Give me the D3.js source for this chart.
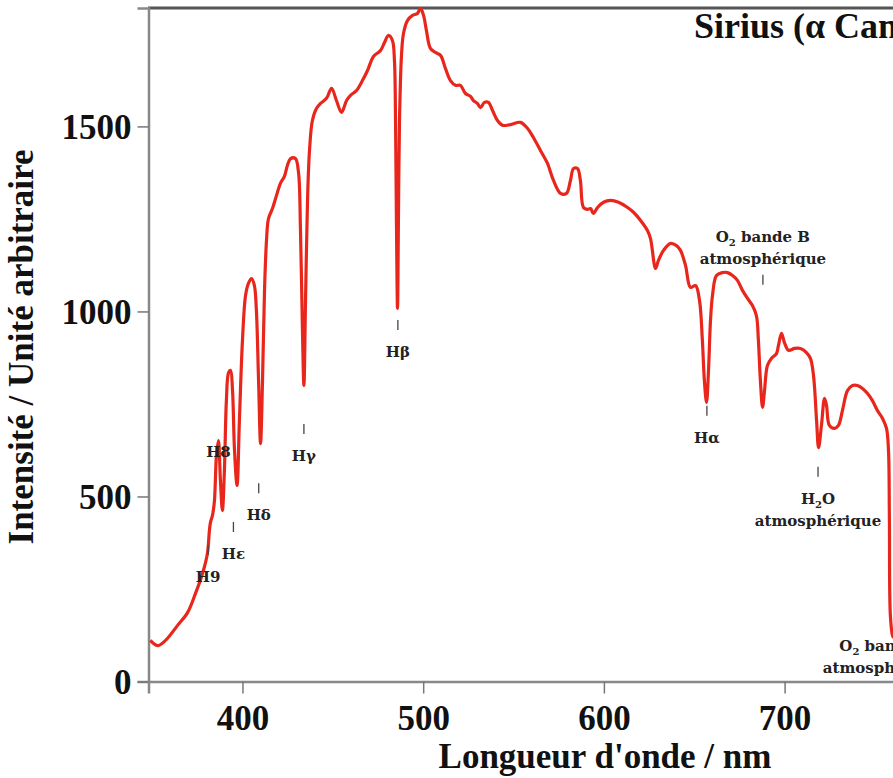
<!DOCTYPE html>
<html>
<head>
<meta charset="utf-8">
<script src="https://cdn.jsdelivr.net/npm/d3@7"></script>
<style>
  body { margin: 0; background: #fff; overflow: hidden; }
  .ticklabel { font-family: "Liberation Serif", serif; font-weight: bold; font-size: 35px; fill: #111; }
  .title { font-family: "Liberation Serif", serif; font-weight: bold; font-size: 35px; fill: #111; }
  .note { font-family: "DejaVu Serif", serif; font-weight: bold; font-size: 15px; fill: #222; }
</style>
</head>
<body>
<script>
// Spectre de Sirius - intensite en fonction de la longueur d'onde

// wavelengths (nm)
var wavelength = [349, 353, 357.4, 364, 369.6, 374, 377.9, 380.6, 381.7, 382.3,
  383.4, 384.5, 385.6, 386.7, 387.8, 388.9, 390, 391.1, 392.3, 393.4,
  394.5, 395.6, 397, 398.3, 400, 401.7, 403.3, 405, 406.6, 407.7,
  408.9, 410, 411.1, 412.2, 413.3, 414.4, 416.6, 418.8, 421, 423.2,
  424.9, 426.6, 429.3, 431, 432.1, 433.2, 434, 434.9, 436, 437.1,
  438.7, 441, 443.2, 446.5, 449.3, 452, 454.8, 457.6, 459.8, 463.1,
  466.4, 469.2, 472.5, 476.4, 478.6, 480.8, 483, 484.1, 484.7, 485.2,
  485.8, 486.3, 486.9, 488, 489.1, 491.3, 494.1, 496.8, 498.5, 500.2,
  501.8, 504, 506.8, 509.6, 512.3, 515.1, 517.9, 520.6, 523.4, 526.2,
  527.8, 530, 531.7, 533.9, 536.1, 538.4, 541.1, 543.9, 548.3, 553.8,
  557.7, 561, 564.9, 568.8, 572.1, 576, 579.3, 581.5, 583.2, 585.4,
  587, 588.7, 590.9, 592.6, 594.2, 596.5, 599.8, 603.7, 608.1, 613.1,
  616.4, 620.3, 624.1, 625.8, 628.6, 630.2, 633, 636.9, 640.2, 642.4,
  645.2, 647.9, 650.7, 652.9, 654.5, 655.6, 656.8, 657.9, 659, 660.1,
  662.3, 665.6, 668.4, 671.2, 673.9, 676.7, 679.5, 682.2, 684.4, 685.5,
  686.6, 687.8, 688.9, 690.5, 692.7, 695.5, 696.6, 698.3, 699.9, 702.2,
  705.5, 708.8, 712.1, 714.3, 716, 717.7, 718.8, 720.4, 722.1, 723.2,
  724.8, 727.6, 729.8, 732, 734.8, 737.6, 740.3, 743.1, 745.9, 748.6,
  751.4, 754.2, 756.4, 757.5, 758, 758.6, 760, 761.5];

// intensity (arbitrary unit)
var intensity = [111, 97, 111, 151, 186, 238, 292, 346, 408, 430,
  449, 489, 611, 651, 543, 462, 570, 759, 835, 841,
  786, 624, 530, 705, 922, 1043, 1076, 1089, 1070, 1003,
  814, 643, 814, 1057, 1192, 1251, 1278, 1313, 1346, 1365,
  1395, 1413, 1413, 1376, 1219, 949, 800, 1030, 1300, 1435,
  1516, 1549, 1562, 1576, 1603, 1570, 1538, 1570, 1584, 1597,
  1624, 1651, 1689, 1705, 1727, 1746, 1732, 1678, 1516, 1246,
  1008, 1246, 1516, 1692, 1751, 1786, 1800, 1805, 1819, 1800,
  1759, 1711, 1700, 1692, 1657, 1624, 1611, 1611, 1589, 1581,
  1570, 1562, 1551, 1565, 1565, 1543, 1516, 1503, 1505, 1511,
  1495, 1470, 1435, 1400, 1354, 1319, 1319, 1354, 1386, 1386,
  1354, 1281, 1276, 1278, 1265, 1281, 1295, 1300, 1295, 1281,
  1268, 1246, 1219, 1197, 1116, 1138, 1165, 1184, 1178, 1165,
  1124, 1065, 1070, 1030, 922, 814, 754, 841, 976, 1043,
  1097, 1105, 1105, 1097, 1084, 1057, 1035, 1016, 989, 922,
  814, 741, 786, 854, 873, 886, 908, 941, 916, 895,
  900, 900, 889, 873, 827, 705, 632, 692, 765, 746,
  692, 684, 692, 732, 786, 800, 800, 792, 778, 759,
  732, 711, 684, 624, 435, 173, 120, 150];

var xTicks = [400, 500, 600, 700];
var yTicks = [0, 500, 1000, 1500];

// line annotations: text lines, wavelength, intensity where the small mark starts
var noteLines = [["H9"], ["H8"], ["H\u03b5"], ["H\u03b4"], ["H\u03b3"], ["H\u03b2"], ["H\u03b1"],
  ["O|2| bande B", "atmosph\u00e9rique"], ["H|2|O", "atmosph\u00e9rique"], ["O|2| bande A", "atmosph\u00e9rique"]];
var noteWave = [381, 386.7, 395, 409, 434, 486, 657, 688, 718.5, 756.1];
var noteLevel = [369, 707, 431, 536, 696, 977, 745, 1099, 580, 182];
var noteAbove = [false, false, false, false, false, false, false, true, false, false];
var noteMark = [true, false, true, true, true, true, true, true, true, false];

var width = 893;
var height = 778;

var svg = d3.select("body").append("svg")
  .attr("width", width)
  .attr("height", height);

// scales (the plot goes on past the right edge of the picture)
var xScale = d3.scaleLinear()
  .domain([348, 800])
  .range([148.5, 965.3]);

var yScale = d3.scaleLinear()
  .domain([0, 1820])
  .range([681.5, 8]);

// frame on top
svg.append("line")
  .attr("x1", 148).attr("x2", width)
  .attr("y1", yScale(1820)).attr("y2", yScale(1820))
  .attr("stroke", "#555")
  .attr("stroke-width", 3);

// y axis
var yAxis = d3.axisLeft(yScale)
  .tickValues(yTicks)
  .tickSize(11)
  .tickPadding(6)
  .tickFormat(d3.format("d"));

var gy = svg.append("g")
  .attr("transform", "translate(" + xScale(348) + ",0)")
  .call(yAxis);

// x axis
var xAxis = d3.axisBottom(xScale)
  .tickValues(xTicks)
  .tickSize(12)
  .tickFormat(d3.format("d"));

var gx = svg.append("g")
  .attr("transform", "translate(0," + yScale(0) + ")")
  .call(xAxis);

[gx, gy].forEach(function(g) {
  g.select(".domain").attr("stroke", "#888").attr("stroke-width", 2.5);
  g.selectAll(".tick line").attr("stroke", "#777").attr("stroke-width", 1.5);
  g.selectAll(".tick text").attr("class", "ticklabel").attr("fill", null);
});
gx.selectAll(".tick text").attr("y", 48).attr("dy", 0);
gy.selectAll(".tick text").attr("dy", "0.34em");

// axis titles
svg.append("text")
  .attr("class", "title")
  .attr("text-anchor", "middle")
  .attr("x", 605)
  .attr("y", 768)
  .text("Longueur d'onde / nm");

svg.append("text")
  .attr("class", "title")
  .attr("text-anchor", "middle")
  .attr("transform", "translate(33,347) rotate(-90)")
  .text("Intensit\u00e9 / Unit\u00e9 arbitraire");

// star name
svg.append("text")
  .attr("class", "title")
  .attr("x", 694)
  .attr("y", 38)
  .style("font-size", "36px")
  .text("Sirius (\u03b1 Canis Majoris)");

// spectrum
var points = wavelength.map(function(w, i) { return [w, intensity[i]]; });

var line = d3.line()
  .x(function(d) { return xScale(d[0]); })
  .y(function(d) { return yScale(d[1]); })
  .curve(d3.curveCatmullRom.alpha(0.5));

svg.append("path")
  .datum(points)
  .attr("fill", "none")
  .attr("stroke", "#e8261c")
  .attr("stroke-width", 3.2)
  .attr("stroke-linejoin", "round")
  .attr("d", line);

// annotations
noteLines.forEach(function(lines, i) {
  var x = xScale(noteWave[i]);
  var top = yScale(noteLevel[i]);
  var g = svg.append("g");

  if (noteMark[i]) {
    g.append("line")
      .attr("x1", x).attr("x2", x)
      .attr("y1", top).attr("y2", top + 10)
      .attr("stroke", "#444")
      .attr("stroke-width", 1.3);
  }

  lines.forEach(function(str, j) {
    var base;
    if (noteAbove[i]) {
      base = top - 33 + j * 22;
    } else {
      base = top + 37 + j * 22;
    }
    var t = g.append("text")
      .attr("class", "note")
      .attr("text-anchor", "middle")
      .attr("x", x)
      .attr("y", base);
    // pieces between | are subscripts
    str.split("|").forEach(function(part, k) {
      if (part == "") return;
      if (k % 2 == 1) {
        t.append("tspan").attr("dy", 4).style("font-size", "10px").text(part);
      } else if (k > 0) {
        t.append("tspan").attr("dy", -4).text(part);
      } else {
        t.append("tspan").text(part);
      }
    });
  });
});
</script>
</body>
</html>
